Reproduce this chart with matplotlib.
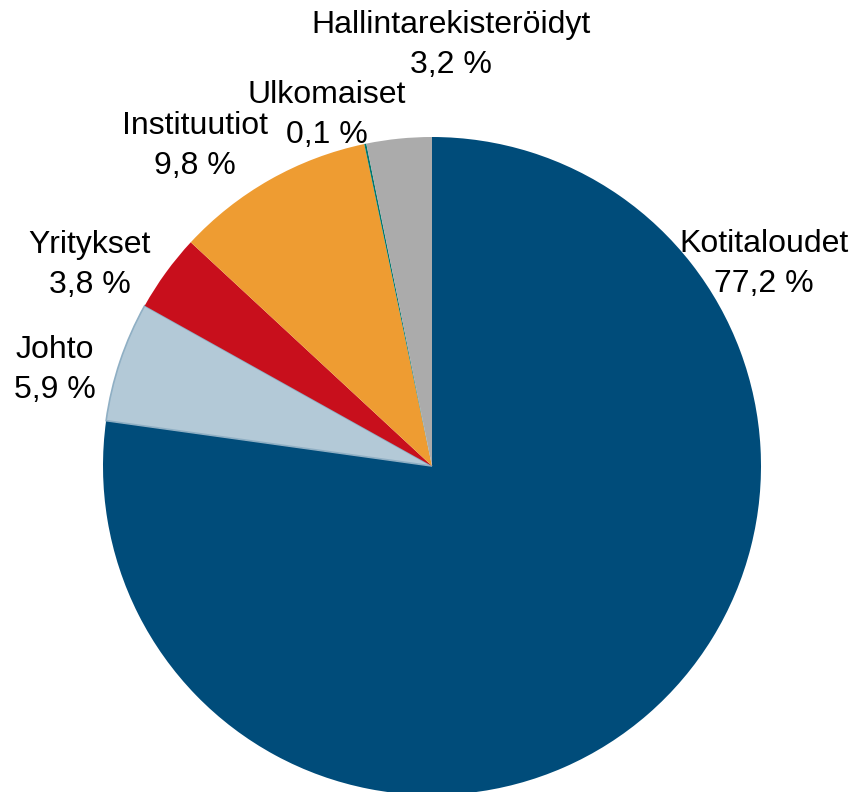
import matplotlib
matplotlib.use('Agg')
import matplotlib.pyplot as plt

# Share of holdings by owner group
labels = ['Kotitaloudet', 'Johto', 'Yritykset', 'Instituutiot', 'Ulkomaiset', 'Hallintarekisteröidyt']
shares = [77.2, 5.9, 3.8, 9.8, 0.1, 3.2]
colors = ['#004C7A', '#B3C9D7', '#C80F1C', '#EE9C32', '#00776E', '#ABABAB']

# label text centres (pixels, from top-left)
label_pos = [(764, 264), (55, 370), (90, 265), (195, 146), (327, 115), (451, 45)]

plt.rcParams['font.family'] = ['Liberation Sans', 'DejaVu Sans']

fig = plt.figure(figsize=(8.54, 7.92), dpi=100)
ax = fig.add_axes([0, 0, 1, 1])

wedges, _ = ax.pie(shares, colors=colors, startangle=90, counterclock=False,
                   center=(432, 326), radius=329, frame=True)
ax.set_xlim(0, 854)
ax.set_ylim(0, 792)
ax.set_aspect('equal')
ax.axis('off')

# darker rim on the Johto slice
wedges[1].set_edgecolor('#8FAFC4')
wedges[1].set_linewidth(1.2)

for name, val, (x, y) in zip(labels, shares, label_pos):
    txt = name + '\n' + f'{val:.1f}'.replace('.', ',') + ' %'
    ax.text(x, 792 - y, txt, ha='center', va='center', fontsize=23, linespacing=1.45)

fig.savefig('out.png', dpi=100)
